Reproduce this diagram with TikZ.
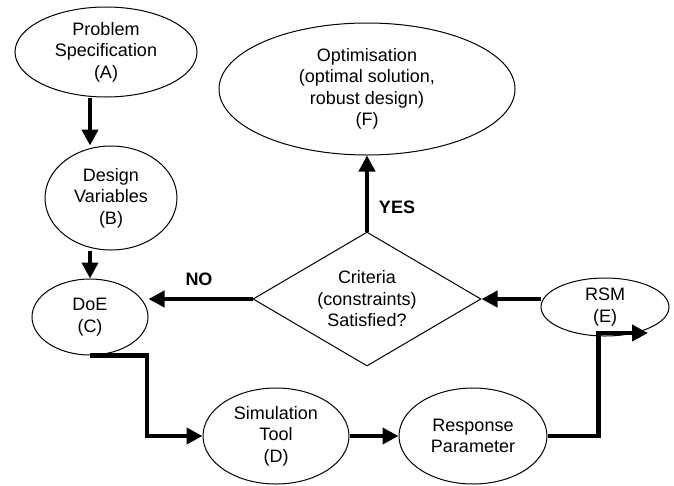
\documentclass[tikz,border=0pt]{standalone}
\usepackage{fontspec}
\setmainfont{Liberation Sans}
\usetikzlibrary{shapes.geometric,arrows.meta,calc}
\begin{document}
\begin{tikzpicture}[x=1pt,y=-1pt,
  every node/.style={font=\fontsize{18}{21.5}\selectfont, align=center, inner sep=0pt},
  blob/.style={ellipse, draw, line width=1pt},
  decision/.style={diamond, draw, line width=1pt, shape aspect=1.7},
  flow/.style={line width=4.5pt, -{Triangle[length=16pt,width=16pt]}},
  tag/.style={font=\bfseries\fontsize{18}{21.5}\selectfont}]
\useasboundingbox (0,0) rectangle (674,485);

% process steps
\node[blob, minimum width=182pt, minimum height=90pt]  (A) at (106,52)  {Problem\\Specification\\(A)};
\node[blob, minimum width=132pt, minimum height=104pt] (B) at (111,198) {Design\\Variables\\(B)};
\node[blob, minimum width=116pt, minimum height=76pt]  (C) at (90,317)  {DoE\\(C)};
\node[blob, minimum width=146pt, minimum height=96pt]  (D) at (276,436) {Simulation\\Tool\\(D)};
\node[blob, minimum width=148pt, minimum height=96pt]  (R) at (473,436) {Response\\Parameter};
\node[blob, minimum width=128pt, minimum height=58pt]  (E) at (605,307) {RSM\\(E)};
\node[blob, minimum width=296pt, minimum height=132pt] (F) at (367,89)  {Optimisation\\(optimal solution,\\robust design)\\(F)};
\node[decision, minimum width=228pt, minimum height=134pt] (Q) at (367,299) {Criteria\\(constraints)\\Satisfied?};

% connectors
\draw[flow] (A.south -| C.north) -- (B.north -| C.north);
\draw[flow] (B.south -| C.north) -- (C.north);
\draw[flow] (C.south) -- ++(57,0) |- (D.west);
\draw[flow] (D.east) -- (R.west);
\draw[flow] (R.east) -- ++(51,0) |- ([shift={(43,26)}]E.center);
\draw[flow] (E.west |- Q.east) -- (Q.east);
\draw[flow] (Q.west) -- (Q.west -| C.east);
\draw[flow] (Q.north) -- (F.south);

% decision labels
\node[tag] (no)  at (199,279) {NO};
\node[tag] (yes) at (397,207) {YES};
\end{tikzpicture}
\end{document}
